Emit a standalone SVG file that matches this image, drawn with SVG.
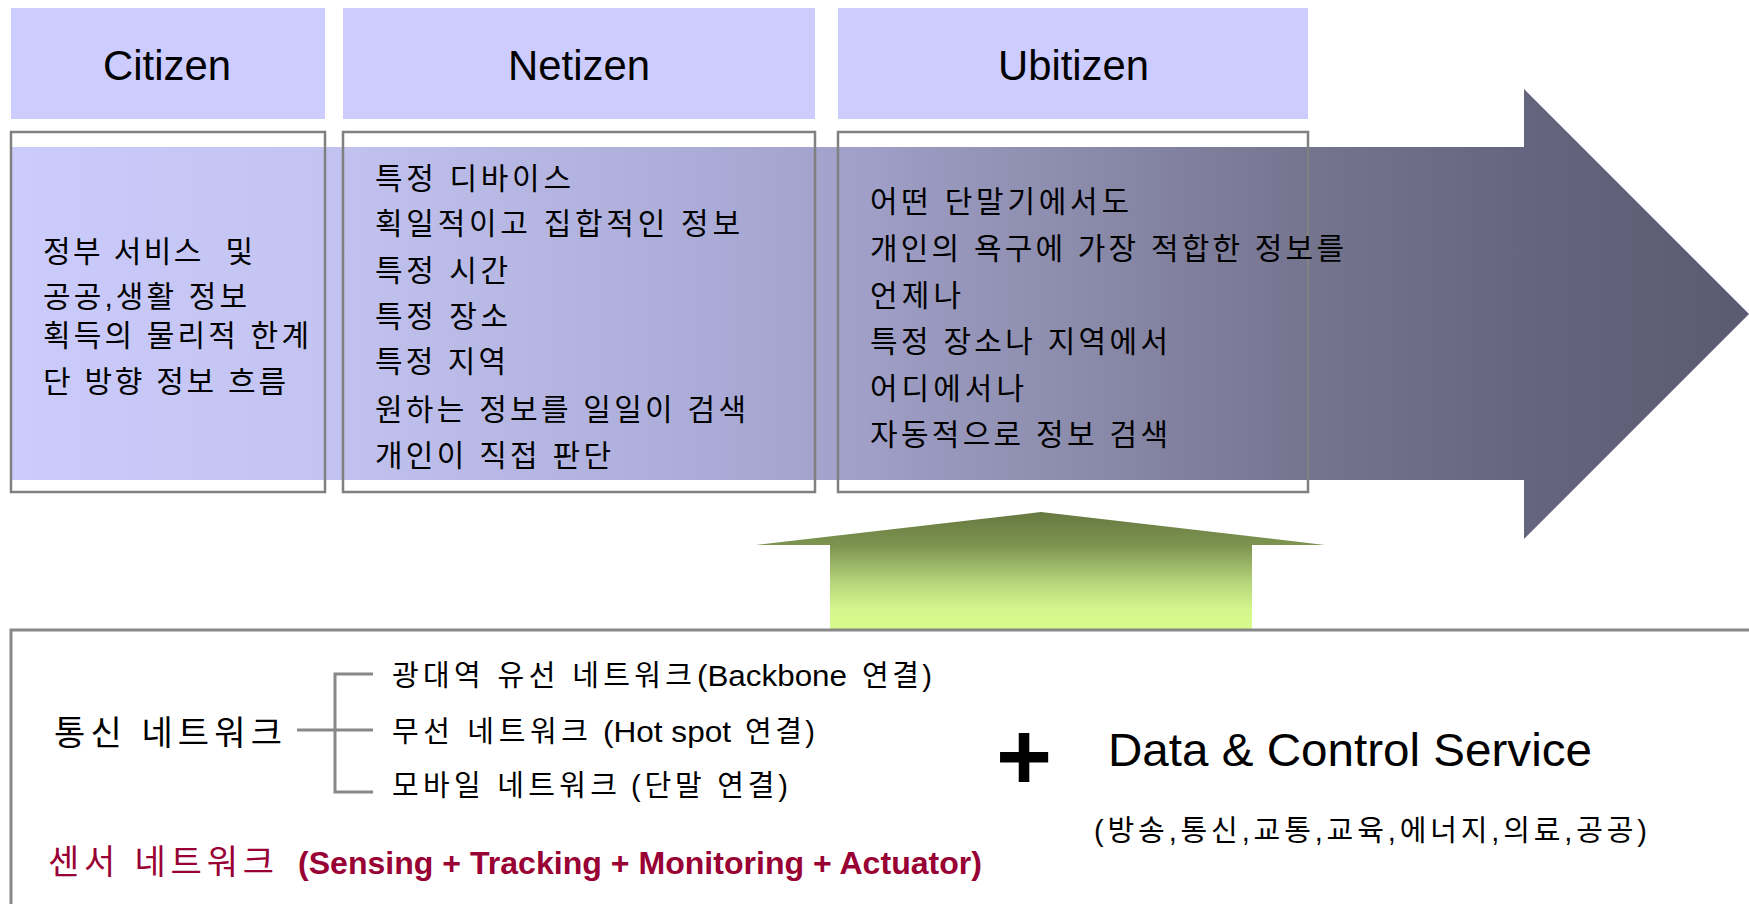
<svg xmlns="http://www.w3.org/2000/svg" width="1749" height="904" viewBox="0 0 1749 904">
<defs>
<linearGradient id="bigGrad" gradientUnits="userSpaceOnUse" x1="11" y1="0" x2="1749" y2="0">
<stop offset="0" stop-color="#cbcbfc"/>
<stop offset="0.17" stop-color="#c4c4f2"/>
<stop offset="0.41" stop-color="#aaaad6"/>
<stop offset="0.5" stop-color="#9e9ec6"/>
<stop offset="0.62" stop-color="#8a8aaa"/>
<stop offset="0.75" stop-color="#74748f"/>
<stop offset="0.88" stop-color="#64647e"/>
<stop offset="1" stop-color="#5a5a72"/>
</linearGradient>
<linearGradient id="greenGrad" gradientUnits="userSpaceOnUse" x1="0" y1="512" x2="0" y2="630">
<stop offset="0" stop-color="#667840"/>
<stop offset="0.3" stop-color="#7f9752"/>
<stop offset="0.6" stop-color="#b6d67c"/>
<stop offset="0.82" stop-color="#d4f68c"/>
<stop offset="1" stop-color="#d8fb8f"/>
</linearGradient>
<style>
.hdr{fill:#ccccff;stroke:none}
.box{fill:none;stroke:#808080;stroke-width:2.5}
.htxt{font-family:"Liberation Sans",Arial,sans-serif;font-size:43px;fill:#000}
.ktxt{font-family:"Liberation Sans","Noto Sans CJK KR",sans-serif;font-size:30px;fill:#000}
.btxt{font-family:"Liberation Sans","Noto Sans CJK KR",sans-serif;font-size:29px;fill:#000}
.big{font-family:"Liberation Sans","Noto Sans CJK KR",sans-serif;font-size:34px;fill:#000}
.red{fill:#990033}
.conn{fill:none;stroke:#888888;stroke-width:3}
</style>
</defs>
<rect width="1749" height="904" fill="#ffffff"/>

<g id="flow-arrow">
<polygon points="11,147 1524,147 1524,89 1749,314 1524,539 1524,480 11,480" fill="url(#bigGrad)"/>
</g>

<g id="citizen">
<rect class="hdr" x="11" y="8" width="314" height="111"/>
<text class="htxt" x="103" y="80" textLength="128" lengthAdjust="spacingAndGlyphs">Citizen</text>
<rect class="box" x="11" y="132" width="314" height="360"/>
<text class="ktxt" x="43" y="262" textLength="210" lengthAdjust="spacing" xml:space="preserve">정부 서비스  및</text>
<text class="ktxt" x="43" y="307" textLength="204" lengthAdjust="spacing">공공,생활 정보</text>
<text class="ktxt" x="43" y="346" textLength="266" lengthAdjust="spacing">획득의 물리적 한계</text>
<text class="ktxt" x="43" y="392" textLength="243" lengthAdjust="spacing">단 방향 정보 흐름</text>
</g>

<g id="netizen">
<rect class="hdr" x="343" y="8" width="472" height="111"/>
<text class="htxt" x="508" y="80" textLength="142" lengthAdjust="spacingAndGlyphs">Netizen</text>
<rect class="box" x="343" y="132" width="472" height="360"/>
<text class="ktxt" x="375" y="189" textLength="196" lengthAdjust="spacing">특정 디바이스</text>
<text class="ktxt" x="375" y="234" textLength="365" lengthAdjust="spacing">획일적이고 집합적인 정보</text>
<text class="ktxt" x="375" y="281" textLength="133" lengthAdjust="spacing">특정 시간</text>
<text class="ktxt" x="375" y="327" textLength="133" lengthAdjust="spacing">특정 장소</text>
<text class="ktxt" x="375" y="372" textLength="131" lengthAdjust="spacing">특정 지역</text>
<text class="ktxt" x="375" y="420" textLength="371" lengthAdjust="spacing">원하는 정보를 일일이 검색</text>
<text class="ktxt" x="375" y="466" textLength="236" lengthAdjust="spacing">개인이 직접 판단</text>
</g>

<g id="ubitizen">
<rect class="hdr" x="838" y="8" width="470" height="111"/>
<text class="htxt" x="998" y="80" textLength="151" lengthAdjust="spacingAndGlyphs">Ubitizen</text>
<rect class="box" x="838" y="132" width="470" height="360"/>
<text class="ktxt" x="870" y="212" textLength="259" lengthAdjust="spacing">어떤 단말기에서도</text>
<text class="ktxt" x="870" y="259" textLength="474" lengthAdjust="spacing">개인의 욕구에 가장 적합한 정보를</text>
<text class="ktxt" x="870" y="306" textLength="91" lengthAdjust="spacing">언제나</text>
<text class="ktxt" x="870" y="352" textLength="298" lengthAdjust="spacing">특정 장소나 지역에서</text>
<text class="ktxt" x="870" y="399" textLength="154" lengthAdjust="spacing">어디에서나</text>
<text class="ktxt" x="870" y="445" textLength="298" lengthAdjust="spacing">자동적으로 정보 검색</text>
</g>

<g id="support-arrow">
<polygon points="1041,512 1325,545 1252,545 1252,630 830,630 830,545 756,545" fill="url(#greenGrad)"/>
</g>

<g id="infrastructure">
<path d="M11,904 V630 H1749" fill="none" stroke="#888888" stroke-width="3"/>
<text class="big" x="54" y="745" textLength="228" lengthAdjust="spacing">통신 네트워크</text>
<text class="btxt" y="686"><tspan x="392" textLength="300" lengthAdjust="spacing">광대역 유선 네트워크</tspan><tspan x="697" textLength="150" lengthAdjust="spacingAndGlyphs">(Backbone</tspan><tspan x="862" textLength="70" lengthAdjust="spacing">연결)</tspan></text>
<text class="btxt" y="742"><tspan x="392" textLength="196" lengthAdjust="spacing">무선 네트워크</tspan><tspan x="603" textLength="128" lengthAdjust="spacingAndGlyphs">(Hot spot</tspan><tspan x="745" textLength="70" lengthAdjust="spacing">연결)</tspan></text>
<text class="btxt" y="796"><tspan x="392" textLength="225" lengthAdjust="spacing">모바일 네트워크</tspan><tspan x="631" textLength="157" lengthAdjust="spacing">(단말 연결)</tspan></text>
<text class="big red" x="48" y="874" textLength="226" lengthAdjust="spacing">센서 네트워크</text>
<text class="red" x="298" y="874" font-family="'Liberation Sans',Arial,sans-serif" font-size="31" font-weight="bold" textLength="684" lengthAdjust="spacingAndGlyphs">(Sensing + Tracking + Monitoring + Actuator)</text>
<text x="1024" y="790" text-anchor="middle" font-family="'Liberation Sans',Arial,sans-serif" font-size="96" font-weight="bold" fill="#000">+</text>
<text x="1108" y="766" font-family="'Liberation Sans',Arial,sans-serif" font-size="46" fill="#000" textLength="484" lengthAdjust="spacingAndGlyphs">Data &amp; Control Service</text>
<text class="btxt" x="1094" y="841" textLength="553" lengthAdjust="spacing">(방송,통신,교통,교육,에너지,의료,공공)</text>
</g>

<g id="connectors">
<path class="conn" d="M297,730 H373 M373,674 H335 V792 H373"/>
</g>
</svg>
